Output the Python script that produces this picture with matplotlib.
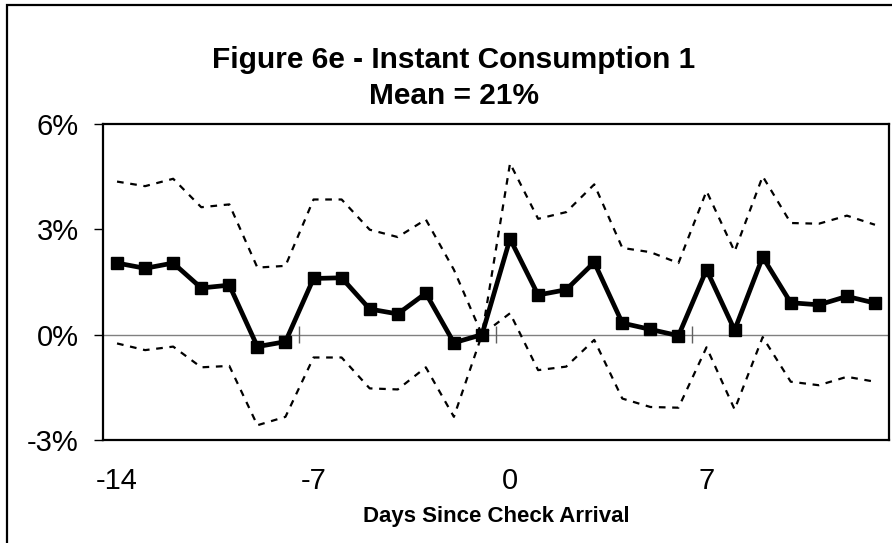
import matplotlib
matplotlib.use("Agg")
import matplotlib.pyplot as plt
from matplotlib.patches import Rectangle
import numpy as np

plt.rcParams['font.family'] = ['Liberation Sans', 'DejaVu Sans']

days = list(range(-14, 14))
mean_effect = [2.04, 1.89, 2.04, 1.33, 1.41, -0.34, -0.20, 1.60, 1.62, 0.73, 0.59, 1.18, -0.23, 0.0,
               2.73, 1.13, 1.28, 2.06, 0.33, 0.15, -0.03, 1.85, 0.13, 2.21, 0.91, 0.85, 1.09, 0.90]
upper_ci = [4.36, 4.23, 4.44, 3.63, 3.71, 1.91, 1.96, 3.85, 3.85, 2.99, 2.78, 3.28, 1.85, 0.0,
            4.88, 3.30, 3.49, 4.28, 2.47, 2.35, 2.04, 4.09, 2.37, 4.51, 3.18, 3.16, 3.39, 3.13]
lower_ci = [-0.25, -0.44, -0.34, -0.93, -0.89, -2.58, -2.34, -0.65, -0.65, -1.53, -1.56, -0.93, -2.34, 0.0,
            0.61, -1.01, -0.91, -0.15, -1.82, -2.06, -2.08, -0.36, -2.13, -0.07, -1.34, -1.44, -1.20, -1.34]
y_ticks = [-3, 0, 3, 6]
y_tick_labels = ['-3%', '0%', '3%', '6%']
x_ticks = [-14, -7, 0, 7]
x_tick_labels = ['-14', '-7', '0', '7']
title_line1 = "Figure 6e - Instant Consumption 1"
title_line2 = "Mean = 21%"
xlabel = "Days Since Check Arrival"

W, H = 892, 543
fig = plt.figure(figsize=(W / 100, H / 100), dpi=100)
ax = fig.add_axes([103 / W, 1 - 440 / H, (889 - 103) / W, (440 - 124) / H])

# outer frame
fig.patches.append(Rectangle((7 / W, -0.05), 1.2, (H - 5) / H + 0.05, transform=fig.transFigure,
                             fill=False, edgecolor='black', linewidth=1.6, clip_on=False))

ax.axhline(0, color='#808080', linewidth=1.0, zorder=1)
# cross tick marks on the zero line at category boundaries
bounds = np.arange(days[0] - 0.5, days[-1] + 1, 7)[1:]
ax.vlines(bounds, -0.24, 0.24, color='#606060', linewidth=1.0, zorder=1)

ax.plot(days, upper_ci, color='black', linewidth=1.6, dashes=(3, 3), zorder=2)
ax.plot(days, lower_ci, color='black', linewidth=1.6, dashes=(3, 3), zorder=2)
ax.plot(days, mean_effect, color='black', linewidth=3.4, marker='s', markersize=8, zorder=3)

ax.set_xlim(days[0] - 0.5, days[-1] + 0.5)
ax.set_ylim(-3, 6)
ax.set_yticks(y_ticks)
ax.set_yticklabels(y_tick_labels, fontsize=21)
ax.set_xticks(x_ticks)
ax.set_xticklabels(x_tick_labels, fontsize=21)
ax.tick_params(axis='y', length=6.5, width=1.0, pad=11, direction='out')
ax.tick_params(axis='x', length=0, pad=19.5)
for s in ax.spines.values():
    s.set_linewidth(1.6)

ax.set_xlabel(xlabel, fontsize=16, fontweight='bold', labelpad=8)
fig.text(454 / W, 1 - 68 / H, title_line1, ha='center', va='baseline', fontsize=21.5, fontweight='bold')
fig.text(454 / W, 1 - 104 / H, title_line2, ha='center', va='baseline', fontsize=21.5, fontweight='bold')

fig.savefig('out.png', dpi=100)
